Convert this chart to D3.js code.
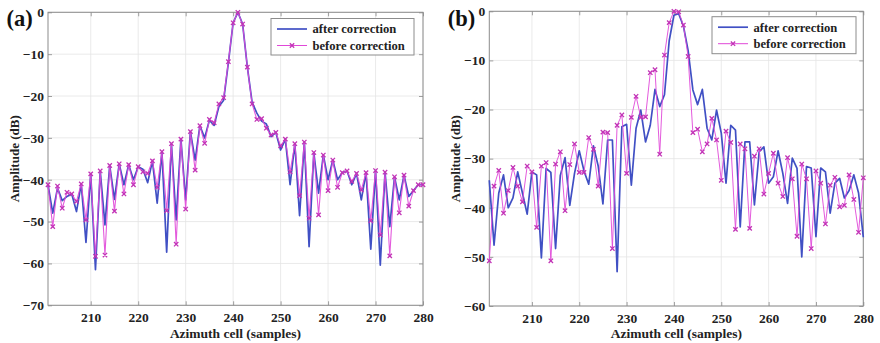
<!DOCTYPE html>
<html>
<head>
<meta charset="utf-8">
<script src="https://cdn.jsdelivr.net/npm/d3@7"></script>
<style>
  html, body { margin: 0; padding: 0; background: #fff; }
  svg { display: block; }
  text { font-family: "Liberation Serif", "Times New Roman", serif; }
</style>
</head>
<body>
<svg id="chart" width="880" height="343"></svg>
<script>
// ---------- data ----------
const firstCell = 201;            // first azimuth cell of every series
const xTicks = [210, 220, 230, 240, 250, 260, 270, 280];
const yTicksA = [0, -10, -20, -30, -40, -50, -60, -70];
const yTicksB = [0, -10, -20, -30, -40, -50, -60];
const seriesNames = ["after correction", "before correction"];
const panelLabels = ["(a)", "(b)"];

// panel (a), cells 201..280
const afterA = [
  -41.2, -48, -42, -45, -44, -43.4, -47.6, -41, -55, -38.6,
  -61.5, -37.9, -50.8, -36.6, -44.7, -36.2, -41.2, -36.4, -40, -36.9,
  -37.5, -40.7, -35.5, -45.6, -33.3, -57.3, -31.4, -49.6, -30.3, -44.8,
  -28.5, -35.3, -27.1, -30, -25.8, -27, -22.5, -21, -12, -2.5,
  0, -2.8, -13.1, -21.5, -24.1, -26, -26.7, -29.7, -28.7, -32.9,
  -30.3, -41.2, -31.4, -48.6, -31, -56, -33.5, -43.2, -34.1, -40,
  -35.3, -40, -38.3, -37.9, -41.2, -38.5, -44.8, -38.3, -56.6, -37.8,
  -60.4, -38.2, -51.2, -39.3, -44.8, -38.9, -44, -42.6, -41.2, -41.2
];
const beforeA = [
  -41.2, -51.2, -41.5, -46.8, -43, -43.4, -45.2, -41, -49.6, -38.6,
  -58.3, -37.9, -58, -36.6, -47.5, -36.2, -43.4, -36.4, -41.2, -36.9,
  -38.1, -38.5, -35.5, -41.8, -33.3, -47.4, -31.4, -55.4, -30.3, -47,
  -28.5, -37.7, -27.1, -31.3, -25.6, -26.4, -21.9, -20.4, -11.8, -2.5,
  0, -2.8, -13.1, -21.9, -25.6, -25.4, -27.7, -29.3, -28.7, -31.9,
  -30.3, -38.1, -31.4, -43.8, -31, -49.2, -33.5, -48.4, -34.1, -42.6,
  -35.3, -41.8, -38.3, -37.9, -40.4, -38.5, -42.4, -38.3, -49.8, -37.8,
  -53.2, -38.2, -58.2, -39.3, -47.9, -38.9, -46.3, -42.6, -41.2, -41.2
];

// panel (b), cells 201..280
const afterB = [
  -34.4, -47.6, -37, -33.3, -40, -38, -32.7, -37, -41.3, -32.7,
  -33.3, -50.2, -32, -32.8, -48.3, -33.4, -29.8, -39.5, -33, -28.4,
  -32.5, -35.2, -27.4, -31.5, -39.2, -26.2, -26.2, -53, -23.5, -23,
  -35.4, -23.8, -20.1, -26.6, -23.2, -15.9, -19.4, -17, -6, -0.8,
  -0.5, -3, -8, -16, -19, -15.9, -23.8, -26.2, -20.1, -24.8,
  -35, -23.2, -24.2, -43.9, -26.6, -26.6, -39.4, -28.6, -27.6, -35,
  -33.7, -28.4, -33, -39.1, -29.9, -32, -50, -31.6, -31.9, -45.9,
  -31.9, -32.7, -41.1, -35, -34, -38, -36.5, -33.3, -37, -46
];
const beforeB = [
  -50.8, -35.6, -32.4, -41.1, -36.5, -31.8, -35.6, -38.8, -31.5, -32.7,
  -44, -31.5, -30.8, -50.8, -31.1, -28.6, -40.6, -31.2, -27, -32.8,
  -32.8, -25.7, -28.1, -35.6, -24.6, -24.7, -48.3, -23.2, -21.1, -33,
  -21.6, -17.3, -21.6, -21.5, -12.5, -11.9, -29.1, -8.9, -2.3, 0,
  -0.1, -2.8, -9.2, -24.7, -24, -28.6, -27, -21.8, -26.2, -34.4,
  -24.4, -26.7, -44.4, -27, -28, -44.2, -29.5, -28, -37.2, -33,
  -28.9, -35, -37.7, -29.8, -34.1, -45.8, -31.1, -34.1, -48.3, -32.5,
  -35, -43.3, -35.4, -33.8, -39.8, -39.5, -33.3, -38.3, -45, -33.9
];

// ---------- drawing ----------
const svg = d3.select("#chart");
const BLUE = "#4050c4";
const MAG = "#e048d8";
const MARK = "#c233b6";
const FONT = '"Liberation Serif", "Times New Roman", serif';

function toPts(arr) { return arr.map((v, i) => ({ x: firstCell + i, y: v })); }

function panel(cfg) {
  const g = svg.append("g");
  const x = d3.scaleLinear().domain([201, 280]).range([cfg.left, cfg.right]);
  const y = d3.scaleLinear().domain(cfg.yDomain).range([cfg.bottom, cfg.top]);

  // grid
  g.append("g").selectAll("line").data(xTicks).join("line")
    .attr("x1", d => x(d)).attr("x2", d => x(d))
    .attr("y1", cfg.top).attr("y2", cfg.bottom)
    .attr("stroke", "#e4e4e4").attr("stroke-width", 0.8);
  g.append("g").selectAll("line").data(cfg.yTicks).join("line")
    .attr("x1", cfg.left).attr("x2", cfg.right)
    .attr("y1", d => y(d)).attr("y2", d => y(d))
    .attr("stroke", "#e4e4e4").attr("stroke-width", 0.8);

  // axes via d3 (inward ticks)
  const xAxis = d3.axisBottom(x).tickValues(xTicks).tickSize(-4).tickPadding(7).tickFormat(d3.format("d"));
  const xg = g.append("g").attr("transform", `translate(0,${cfg.bottom})`).call(xAxis);
  const yAxis = d3.axisLeft(y).tickValues(cfg.yTicks).tickSize(-4).tickPadding(4).tickFormat(d3.format("d"));
  const yg = g.append("g").attr("transform", `translate(${cfg.left},0)`).call(yAxis);
  const topAxis = d3.axisTop(x).tickValues(xTicks).tickSize(-4).tickFormat("");
  const tg = g.append("g").attr("transform", `translate(0,${cfg.top})`).call(topAxis);
  const rightAxis = d3.axisRight(y).tickValues(cfg.yTicks).tickSize(-4).tickFormat("");
  const rg = g.append("g").attr("transform", `translate(${cfg.right},0)`).call(rightAxis);
  [xg, yg, tg, rg].forEach(a => {
    a.select(".domain").remove();
    a.selectAll(".tick line").attr("stroke", "#888").attr("stroke-width", 0.8);
  });
  [xg, yg].forEach(a => a.selectAll(".tick text")
    .attr("font-family", FONT).attr("font-size", 13.5).attr("font-weight", "bold").attr("fill", "#222"));
  xg.selectAll(".tick text").attr("dy", "0.71em");

  // frame
  g.append("rect").attr("x", cfg.left).attr("y", cfg.top)
    .attr("width", cfg.right - cfg.left).attr("height", cfg.bottom - cfg.top)
    .attr("fill", "none").attr("stroke", "#8c8c8c").attr("stroke-width", 1);

  // lines
  const line = d3.line().x(d => x(d.x)).y(d => y(d.y));
  const after = toPts(cfg.after), before = toPts(cfg.before);
  g.append("path").datum(after).attr("d", line)
    .attr("fill", "none").attr("stroke", BLUE).attr("stroke-width", 1.7).attr("stroke-linejoin", "round");
  g.append("path").datum(before).attr("d", line)
    .attr("fill", "none").attr("stroke", MAG).attr("stroke-width", cfg.magW).attr("stroke-opacity", cfg.magOp);
  const sym = d3.symbol().type(d3.symbolX).size(14);
  g.append("g").selectAll("path").data(before).join("path")
    .attr("transform", d => `translate(${x(d.x)},${y(d.y)})`)
    .attr("d", sym).attr("fill", "none").attr("stroke", MARK).attr("stroke-width", 1.3);

  // axis titles
  g.append("text").attr("x", (cfg.left + cfg.right) / 2).attr("y", 337.5)
    .attr("text-anchor", "middle").attr("font-size", 13.5).attr("font-weight", "bold")
    .attr("fill", "#222").text("Azimuth cell (samples)");
  g.append("text")
    .attr("transform", `translate(${cfg.left - 29},${(cfg.top + cfg.bottom) / 2}) rotate(-90)`)
    .attr("text-anchor", "middle").attr("font-size", 13).attr("font-weight", "bold")
    .attr("fill", "#222").text("Amplitude (dB)");

  // panel label
  g.append("text").attr("x", cfg.left - 41.5).attr("y", 26)
    .attr("font-size", 22.5).attr("font-weight", "bold").attr("fill", "#111").text(cfg.label);

  // legend
  const L = cfg.legend;
  const lg = g.append("g");
  lg.append("rect").attr("x", L.x).attr("y", L.y).attr("width", L.w).attr("height", L.h)
    .attr("fill", "#fff").attr("stroke", "#8c8c8c").attr("stroke-width", 1);
  const rows = [
    { name: seriesNames[0], color: BLUE, w: 1.7, marker: false },
    { name: seriesNames[1], color: MAG, w: 1, marker: true }
  ];
  rows.forEach((r, i) => {
    const cy = L.y + 10.5 + i * 16.5;
    lg.append("line").attr("x1", L.x + 6).attr("x2", L.x + 36).attr("y1", cy).attr("y2", cy)
      .attr("stroke", r.color).attr("stroke-width", r.w);
    if (r.marker) {
      lg.append("path").attr("transform", `translate(${L.x + 21},${cy})`).attr("d", sym)
        .attr("fill", "none").attr("stroke", MARK).attr("stroke-width", 1.3);
    }
    lg.append("text").attr("x", L.x + 41.5).attr("y", cy + 4.3)
      .attr("font-size", 12.6).attr("font-weight", "bold").attr("fill", "#222").text(r.name);
  });
}

panel({
  left: 48, right: 423, top: 12.3, bottom: 305.3,
  yDomain: [-70, 0], yTicks: yTicksA, after: afterA, before: beforeA,
  label: panelLabels[0], magW: 1.1, magOp: 0.9,
  legend: { x: 271, y: 18.5, w: 143, h: 36.5 }
});
panel({
  left: 489.3, right: 863.3, top: 11.3, bottom: 306,
  yDomain: [-60, 0], yTicks: yTicksB, after: afterB, before: beforeB,
  label: panelLabels[1], magW: 1, magOp: 0.9,
  legend: { x: 712, y: 16.7, w: 144, h: 37 }
});
</script>
</body>
</html>
